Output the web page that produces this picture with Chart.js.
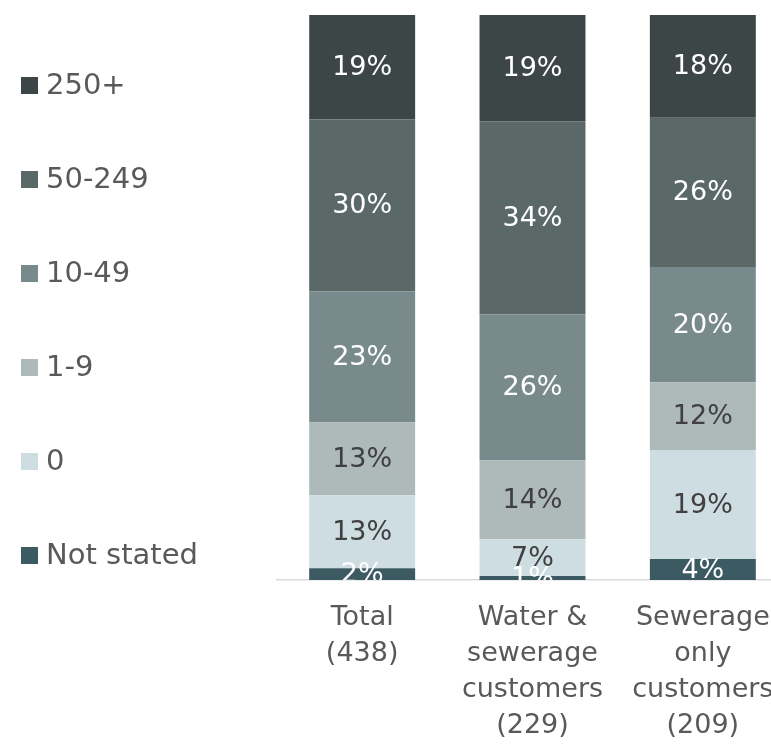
<!DOCTYPE html>
<html>
<head>
<meta charset="utf-8">
<script src="https://cdn.jsdelivr.net/npm/chart.js@4"></script>
<style>
  body { margin: 0; background: #fff; overflow: hidden; }
  .wrap { position: relative; width: 800px; height: 745px; }
</style>
</head>
<body>
<div class="wrap"><canvas id="size_chart"></canvas></div>
<script>
// categories (multi-line tick labels)
var categories = [
    ["Total", "(438)"],
    ["Water &", "sewerage", "customers", "(229)"],
    ["Sewerage", "only", "customers", "(209)"]
]
// series, bottom of the stack first
var seriesNames = ["Not stated", "0", "1-9", "10-49", "50-249", "250+"]
var notStated = [2.1, 0.7, 3.7]
var zero = [12.9, 6.5, 19.3]
var oneToNine = [12.9, 14.0, 12.0]
var tenTo49 = [23.2, 25.8, 20.4]
var fiftyTo249 = [30.4, 34.2, 26.4]
var over250 = [18.5, 18.8, 18.2]

var colors = ["#3b5a62", "#cddde2", "#aeb9b9", "#798a8c", "#5a6868", "#3d4647"]
var labelColors = ["#ffffff", "#404040", "#404040", "#ffffff", "#ffffff", "#ffffff"]
var seriesData = [notStated, zero, oneToNine, tenTo49, fiftyTo249, over250]

var FONT = '"DejaVu Sans", sans-serif'

// percentage labels centred in each segment, clipped to the plot area
var segLabels = {
    id: 'segLabels',
    afterDatasetsDraw: function (chart) {
        var ctx = chart.ctx, area = chart.chartArea
        ctx.save()
        ctx.beginPath()
        ctx.rect(area.left, area.top, area.right - area.left, area.bottom - area.top)
        ctx.clip()
        ctx.font = '27px ' + FONT
        ctx.textAlign = 'center'
        ctx.textBaseline = 'middle'
        chart.data.datasets.forEach(function (ds, i) {
            chart.getDatasetMeta(i).data.forEach(function (bar, j) {
                var p = bar.getProps(['x', 'y', 'base'], true)
                ctx.fillStyle = ds.labelColor
                ctx.fillText(Math.round(ds.data[j]) + '%', p.x, (p.y + p.base) / 2 + 1)
            })
        })
        ctx.restore()
    }
}

// legend on the left, top series first
var sideLegend = {
    id: 'sideLegend',
    afterDraw: function (chart) {
        var ctx = chart.ctx
        var items = chart.data.datasets.slice().reverse()
        ctx.save()
        ctx.font = '29px ' + FONT
        ctx.textBaseline = 'middle'
        ctx.textAlign = 'left'
        items.forEach(function (ds, k) {
            var cy = 85 + k * 94
            ctx.fillStyle = ds.backgroundColor
            ctx.fillRect(21, cy - 8, 17, 17)
            ctx.fillStyle = '#595959'
            ctx.fillText(ds.label, 46, cy + 1)
        })
        ctx.restore()
    }
}

var sizeCanvas = document.getElementById("size_chart")
var config = {
    type: "bar",
    data: {
        labels: categories,
        datasets: seriesNames.map(function (name, i) {
            return {
                label: name,
                data: seriesData[i],
                backgroundColor: colors[i],
                labelColor: labelColors[i],
                borderWidth: 0,
                categoryPercentage: 1,
                barPercentage: 0.622
            }
        })
    },
    options: {
        responsive: true,
        maintainAspectRatio: false,
        animation: false,
        layout: { padding: { left: 277, right: 12, top: 15, bottom: 0 } },
        plugins: { legend: { display: false }, tooltip: { enabled: false } },
        scales: {
            x: {
                stacked: true,
                grid: { display: false, drawTicks: false },
                border: { display: true, color: '#d9d9d9', width: 1.5 },
                ticks: {
                    color: '#595959',
                    padding: 20,
                    maxRotation: 0,
                    autoSkip: false,
                    font: { family: FONT, size: 27, lineHeight: 1.333 }
                },
                afterFit: function (scale) { scale.height = 165 }
            },
            y: {
                stacked: true,
                display: false,
                min: 0,
                max: 100
            }
        }
    },
    plugins: [segLabels, sideLegend]
}
var size_chart = new Chart(sizeCanvas, config)
</script>
</body>
</html>
